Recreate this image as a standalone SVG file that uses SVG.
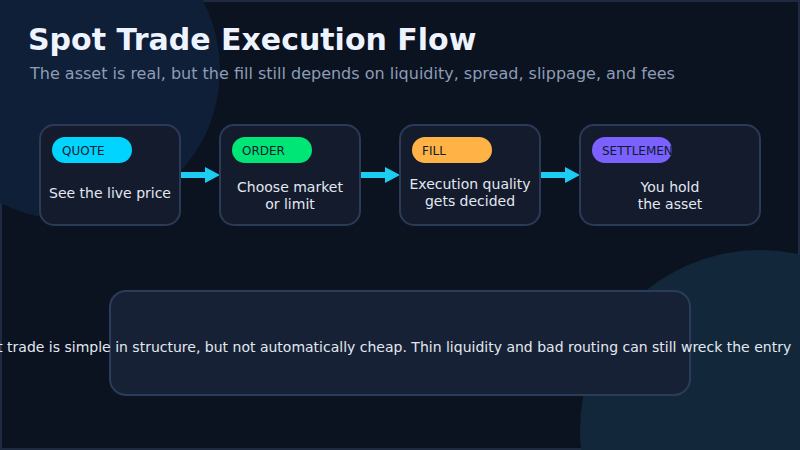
<svg xmlns="http://www.w3.org/2000/svg" width="800" height="450" viewBox="0 0 800 450">
<style>
text{font-family:"DejaVu Sans","Liberation Sans",sans-serif}
.title{font-size:30px;font-weight:bold;fill:#eef4ff}
.sub{font-size:16px;fill:#8d9db6}
.card{fill:#141b2d;stroke:#2a3a57;stroke-width:2}
.pilltext{font-size:12px;fill:#0f1b2e}
.body{font-size:14px;fill:#e2e8f0;text-anchor:middle}
.conn{stroke:#1ccdf2;stroke-width:6;fill:none}
.note{fill:#172135;stroke:#2b3b5a;stroke-width:2}
</style>
<defs>
<marker id="ah" markerUnits="userSpaceOnUse" markerWidth="16" markerHeight="16" refX="1" refY="8" orient="auto">
<path d="M0,0 L15,8 L0,16 Z" fill="#1ccdf2"/>
</marker>
</defs>
<rect x="1" y="1" width="798" height="448" fill="#0b1220" stroke="#1d2a40" stroke-width="2"/>
<circle cx="70" cy="70" r="150" fill="#0f1f37"/>
<circle cx="760" cy="430" r="180" fill="#12283a"/>
<text class="title" x="28" y="50">Spot Trade Execution Flow</text>
<text class="sub" x="30" y="79">The asset is real, but the fill still depends on liquidity, spread, slippage, and fees</text>
<g id="connectors">
<line class="conn" x1="180" y1="175" x2="206" y2="175" marker-end="url(#ah)"/>
<line class="conn" x1="360" y1="175" x2="386" y2="175" marker-end="url(#ah)"/>
<line class="conn" x1="540" y1="175" x2="566" y2="175" marker-end="url(#ah)"/>
</g>
<g id="quote">
<rect class="card" x="40" y="125" width="140" height="100" rx="14"/>
<rect x="52" y="137" width="80" height="26" rx="13" fill="#00d4ff"/>
<text class="pilltext" x="62" y="155">QUOTE</text>
<text class="body" x="110" y="198">See the live price</text>
</g>
<g id="order">
<rect class="card" x="220" y="125" width="140" height="100" rx="14"/>
<rect x="232" y="137" width="80" height="26" rx="13" fill="#00e676"/>
<text class="pilltext" x="242" y="155">ORDER</text>
<text class="body" x="290" y="192">Choose market</text>
<text class="body" x="290" y="209">or limit</text>
</g>
<g id="fill">
<rect class="card" x="400" y="125" width="140" height="100" rx="14"/>
<rect x="412" y="137" width="80" height="26" rx="13" fill="#ffb347"/>
<text class="pilltext" x="422" y="155">FILL</text>
<text class="body" x="470" y="189">Execution quality</text>
<text class="body" x="470" y="206">gets decided</text>
</g>
<g id="settlement">
<rect class="card" x="580" y="125" width="180" height="100" rx="14"/>
<rect x="592" y="137" width="80" height="26" rx="13" fill="#7b61ff"/>
<text class="pilltext" x="602" y="155">SETTLEMENT</text>
<text class="body" x="670" y="192">You hold</text>
<text class="body" x="670" y="209">the asset</text>
</g>
<g id="note">
<rect class="note" x="110" y="291" width="580" height="104" rx="16"/>
<text class="body" x="381" y="352">Spot trade is simple in structure, but not automatically cheap. Thin liquidity and bad routing can still wreck the entry</text>
</g>
</svg>
